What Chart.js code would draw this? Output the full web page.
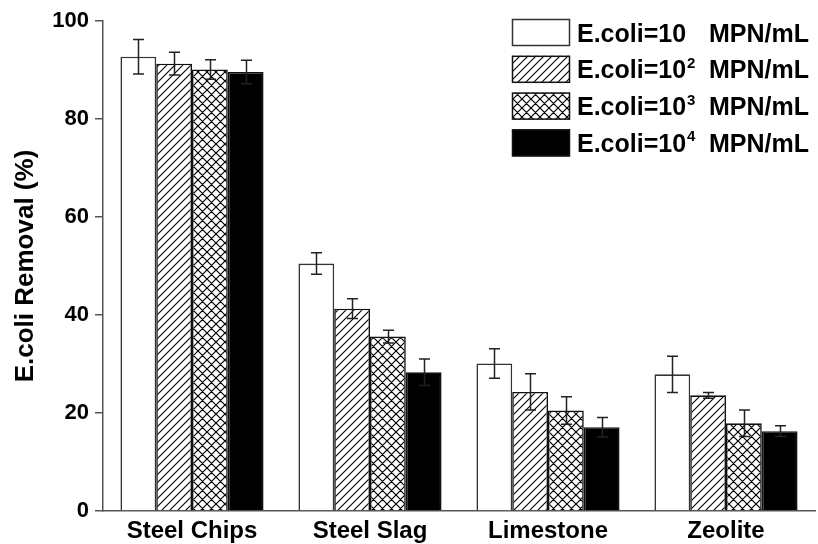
<!DOCTYPE html>
<html>
<head>
<meta charset="utf-8">
<script src="https://cdn.jsdelivr.net/npm/chart.js@4.4.1/dist/chart.umd.min.js"></script>
<style>
  html, body { margin: 0; padding: 0; background: #fff; }
  #wrap { width: 818px; height: 544px; position: relative; }
</style>
</head>
<body>
<div id="wrap"><canvas id="c" width="818" height="544"></canvas></div>
<script>
// ---- data ----
const categories = ['Steel Chips', 'Steel Slag', 'Limestone', 'Zeolite'];
const seriesBase = 'E.coli=10';
const seriesExponents = ['', '2', '3', '4'];
const seriesUnit = 'MPN/mL';
const yTicks = [0, 20, 40, 60, 80, 100];

const values10 = [92.7, 50.5, 30.1, 27.9];
const values100 = [91.3, 41.3, 24.3, 23.6];
const values1000 = [90.1, 35.6, 20.5, 17.9];
const values10000 = [89.6, 28.3, 17.1, 16.3];

const errors10 = [3.5, 2.2, 3.0, 3.7];
const errors100 = [2.3, 2.0, 3.7, 0.6];
const errors1000 = [2.0, 1.3, 2.8, 2.7];
const errors10000 = [2.4, 2.7, 2.0, 1.1];

const supMap = { '': '', '2': '\u00B2', '3': '\u00B3', '4': '\u2074' };
const FONT = '"Liberation Sans", Arial, sans-serif';

// ---- patterns ----
function makeHatch() {
  const s = 8, c = document.createElement('canvas');
  c.width = s; c.height = s;
  const g = c.getContext('2d');
  g.fillStyle = '#fff'; g.fillRect(0, 0, s, s);
  g.strokeStyle = '#000'; g.lineWidth = 1.1;
  g.beginPath();
  g.moveTo(-2, s + 2); g.lineTo(s + 2, -2);
  g.moveTo(-2, 2); g.lineTo(2, -2);
  g.moveTo(s - 2, s + 2); g.lineTo(s + 2, s - 2);
  g.stroke();
  return g.createPattern(c, 'repeat');
}
function makeCross() {
  const s = 9, c = document.createElement('canvas');
  c.width = s; c.height = s;
  const g = c.getContext('2d');
  g.fillStyle = '#fff'; g.fillRect(0, 0, s, s);
  g.strokeStyle = '#000'; g.lineWidth = 1.2;
  g.beginPath();
  g.moveTo(-2, s + 2); g.lineTo(s + 2, -2);
  g.moveTo(-2, 2); g.lineTo(2, -2);
  g.moveTo(s - 2, s + 2); g.lineTo(s + 2, s - 2);
  g.moveTo(-2, -2); g.lineTo(s + 2, s + 2);
  g.moveTo(-2, s - 2); g.lineTo(2, s + 2);
  g.moveTo(s - 2, -2); g.lineTo(s + 2, 2);
  g.stroke();
  return g.createPattern(c, 'repeat');
}
const fills = ['#ffffff', makeHatch(), makeCross(), '#000000'];
const allValues = [values10, values100, values1000, values10000];
const allErrors = [errors10, errors100, errors1000, errors10000];

const datasets = allValues.map((vals, i) => ({
  label: seriesBase + supMap[seriesExponents[i]] + ' ' + seriesUnit,
  data: vals,
  errors: allErrors[i],
  exponent: seriesExponents[i],
  backgroundColor: fills[i],
  borderColor: i === 0 ? '#333' : '#111',
  borderWidth: 1.6,
  borderSkipped: 'bottom',
  categoryPercentage: 0.804,
  barPercentage: 1.0
}));

// ---- plugins ----
const errorBars = {
  id: 'errorBars',
  afterDatasetsDraw(chart) {
    const ctx = chart.ctx, y = chart.scales.y;
    ctx.save();
    ctx.strokeStyle = '#222';
    ctx.lineWidth = 1.5;
    chart.data.datasets.forEach((ds, di) => {
      const meta = chart.getDatasetMeta(di);
      meta.data.forEach((bar, i) => {
        const v = ds.data[i], e = ds.errors[i];
        const x = Math.round(bar.x) + 0.5;
        const yt = y.getPixelForValue(v + e), yb = y.getPixelForValue(v - e);
        ctx.beginPath();
        ctx.moveTo(x, yt); ctx.lineTo(x, yb);
        ctx.moveTo(x - 5.5, yt); ctx.lineTo(x + 5.5, yt);
        ctx.moveTo(x - 5.5, yb); ctx.lineTo(x + 5.5, yb);
        ctx.stroke();
      });
    });
    ctx.restore();
  }
};

const patternLegend = {
  id: 'patternLegend',
  afterDraw(chart) {
    const ctx = chart.ctx;
    const boxX = 512, boxW = 58, boxH = 27, top0 = 19, step = 36.8;
    const textX = 577, unitX = 709;
    ctx.save();
    chart.data.datasets.forEach((ds, i) => {
      const by = top0 + i * step;
      ctx.fillStyle = ds.backgroundColor;
      ctx.fillRect(boxX, by, boxW, boxH);
      ctx.strokeStyle = ds.borderColor;
      ctx.lineWidth = 1.5;
      ctx.strokeRect(boxX + 0.5, by + 0.5, boxW - 1, boxH - 1);
      const baseY = by + boxH / 2 + 9;
      ctx.fillStyle = '#000';
      ctx.textBaseline = 'alphabetic';
      ctx.textAlign = 'left';
      ctx.font = 'bold 25px ' + FONT;
      ctx.fillText(seriesBase, textX, baseY);
      const w = ctx.measureText(seriesBase).width;
      if (ds.exponent) {
        ctx.font = 'bold 15px ' + FONT;
        ctx.fillText(ds.exponent, textX + w + 1, baseY - 10.5);
      }
      ctx.font = 'bold 25px ' + FONT;
      ctx.fillText(seriesUnit, unitX, baseY);
    });
    ctx.restore();
  }
};

new Chart(document.getElementById('c'), {
  type: 'bar',
  data: { labels: categories, datasets: datasets },
  options: {
    responsive: false,
    animation: false,
    devicePixelRatio: 1,
    layout: { padding: { top: 21, right: 3, left: 0, bottom: 0 } },
    plugins: { legend: { display: false }, tooltip: { enabled: false } },
    scales: {
      x: {
        grid: { display: false, drawTicks: false },
        border: { display: true, color: '#555', width: 1.5 },
        ticks: {
          color: '#000',
          padding: 6,
          font: { family: FONT, size: 24, weight: 'bold' }
        },
        afterFit(scale) { scale.height = 33; }
      },
      y: {
        min: 0, max: 100,
        afterBuildTicks(scale) { scale.ticks = yTicks.map(v => ({ value: v })); },
        grid: { display: true, drawOnChartArea: false, drawTicks: true, tickLength: 8, color: '#555', lineWidth: 1.5 },
        border: { display: true, color: '#555', width: 1.5 },
        ticks: {
          color: '#000',
          padding: 6,
          font: { family: FONT, size: 22, weight: 'bold' }
        },
        title: {
          display: true,
          text: 'E.coli Removal (%)',
          color: '#000',
          padding: { top: 10, bottom: 0 },
          font: { family: FONT, size: 26, weight: 'bold' }
        },
        afterFit(scale) { scale.width = 103; }
      }
    }
  },
  plugins: [errorBars, patternLegend]
});
</script>
</body>
</html>
